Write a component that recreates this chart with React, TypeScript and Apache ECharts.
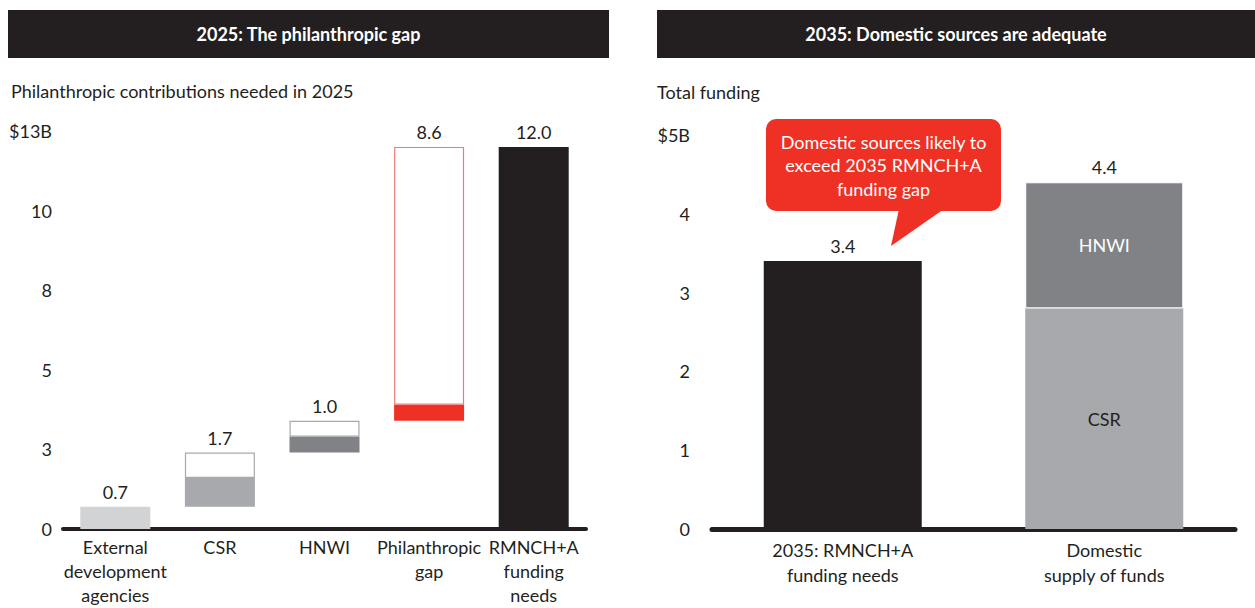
import React, { useEffect, useRef } from "react";
import * as echarts from "echarts";

// ---------- Data ----------
const leftCategories = [
  "External\ndevelopment\nagencies",
  "CSR",
  "HNWI",
  "Philanthropic\ngap",
  "RMNCH+A\nfunding\nneeds",
];
const leftTotals = [0.7, 1.7, 1.0, 8.6, 12.0];
const leftFilled = [0.7, 0.9, 0.5, 0.5, 12.0];
const leftIsTotal = [false, false, false, false, true];
const leftTickLabels = ["0", "3", "5", "8", "10", "$13B"];

const rightCategories = ["2035: RMNCH+A\nfunding needs", "Domestic\nsupply of funds"];
const rightNeeds = [3.4, "-"];
const rightCSR = ["-", 2.8];
const rightHNWI = ["-", 1.6];
const rightTotals = [3.4, 4.4];
const rightTickLabels = ["0", "1", "2", "3", "4", "$5B"];

// ---------- Styles ----------
const FONT = "Lato, 'Open Sans', sans-serif";
const FS = 18;
const TEXT = "#231f20";
const BLACK = "#231f20";
const RED = "#ee3124";
const leftFillColors = ["#d1d3d4", "#a7a9ac", "#808285", RED, BLACK];
const leftOutlineColors = ["#a7a9ac", "#a7a9ac", "#a7a9ac", "#f37a73", "#a7a9ac"];

export default function App() {
  const ref = useRef<HTMLDivElement>(null);

  useEffect(() => {
    if (!ref.current) return;
    const chart = echarts.init(ref.current, null, { renderer: "svg" });

    // waterfall bases
    const bases: number[] = [];
    let run = 0;
    leftTotals.forEach((t, i) => {
      if (leftIsTotal[i]) {
        bases.push(0);
      } else {
        bases.push(run);
        run += t;
      }
    });

    const filledData = leftFilled.map((v, i) => ({
      value: v,
      itemStyle: { color: leftFillColors[i] },
    }));
    const outlineData = leftTotals.map((t, i) => {
      const v = Math.max(0, +(t - leftFilled[i]).toFixed(2));
      return {
        value: v,
        itemStyle: {
          color: "#ffffff",
          borderColor: leftOutlineColors[i],
          borderWidth: v > 0 ? 1.2 : 0,
        },
      };
    });

    const valueLabel = (arr: number[]) => ({
      show: true,
      position: "top" as const,
      distance: 6,
      fontSize: FS,
      fontFamily: FONT,
      color: TEXT,
      formatter: (p: any) => arr[p.dataIndex].toFixed(1),
    });

    const option: any = {
      animation: false,
      backgroundColor: "#ffffff",
      textStyle: { fontFamily: FONT },
      grid: [
        { left: 63, right: 669, top: 131, bottom: 79, containLabel: false, outerBoundsMode: "none" },
        { left: 712, right: 20, top: 135, bottom: 79, containLabel: false, outerBoundsMode: "none" },
      ],
      xAxis: [
        {
          type: "category",
          gridIndex: 0,
          data: leftCategories,
          axisLine: { show: true, lineStyle: { color: BLACK, width: 4 } },
          axisTick: { show: false },
          axisLabel: {
            interval: 0,
            fontSize: FS,
            lineHeight: 24,
            color: TEXT,
            fontFamily: FONT,
            margin: 6,
          },
        },
        {
          type: "category",
          gridIndex: 1,
          data: rightCategories,
          axisLine: { show: true, lineStyle: { color: BLACK, width: 5 } },
          axisTick: { show: false },
          axisLabel: {
            interval: 0,
            fontSize: FS,
            lineHeight: 25,
            color: TEXT,
            fontFamily: FONT,
            margin: 8,
          },
        },
      ],
      yAxis: [
        {
          type: "value",
          gridIndex: 0,
          min: 0,
          max: 12.5,
          interval: 2.5,
          axisLine: { show: false },
          axisTick: { show: false },
          splitLine: { show: false },
          axisLabel: {
            fontSize: FS,
            color: TEXT,
            fontFamily: FONT,
            margin: 11,
            formatter: (v: number) => leftTickLabels[Math.round(v / 2.5)],
          },
        },
        {
          type: "value",
          gridIndex: 1,
          min: 0,
          max: 5,
          interval: 1,
          axisLine: { show: false },
          axisTick: { show: false },
          splitLine: { show: false },
          axisLabel: {
            fontSize: FS,
            color: TEXT,
            fontFamily: FONT,
            margin: 22,
            formatter: (v: number) => rightTickLabels[Math.round(v)],
          },
        },
      ],
      series: [
        {
          name: "base",
          type: "bar",
          xAxisIndex: 0,
          yAxisIndex: 0,
          stack: "left",
          barWidth: 70,
          itemStyle: { color: "transparent" },
          data: bases,
          silent: true,
        },
        {
          name: "filled",
          type: "bar",
          xAxisIndex: 0,
          yAxisIndex: 0,
          stack: "left",
          barWidth: 70,
          data: filledData,
        },
        {
          name: "outline",
          type: "bar",
          xAxisIndex: 0,
          yAxisIndex: 0,
          stack: "left",
          barWidth: 70,
          data: outlineData,
          label: valueLabel(leftTotals),
        },
        {
          name: "2035 needs",
          type: "bar",
          xAxisIndex: 1,
          yAxisIndex: 1,
          stack: "right",
          barWidth: 158,
          itemStyle: { color: BLACK },
          data: rightNeeds,
          label: valueLabel(rightTotals),
        },
        {
          name: "CSR",
          type: "bar",
          xAxisIndex: 1,
          yAxisIndex: 1,
          stack: "right",
          barWidth: 158,
          itemStyle: { color: "#a7a9ac" },
          data: rightCSR,
          label: {
            show: true,
            position: "inside",
            formatter: "CSR",
            fontSize: FS,
            color: TEXT,
            fontFamily: FONT,
          },
        },
        {
          name: "HNWI",
          type: "bar",
          xAxisIndex: 1,
          yAxisIndex: 1,
          stack: "right",
          barWidth: 158,
          itemStyle: { color: "#808285", borderColor: "#ffffff", borderWidth: 1 },
          data: rightHNWI,
          label: {
            show: true,
            position: "inside",
            formatter: "HNWI",
            fontSize: FS,
            color: "#ffffff",
            fontFamily: FONT,
          },
        },
        {
          name: "total",
          type: "bar",
          xAxisIndex: 1,
          yAxisIndex: 1,
          stack: "right",
          barWidth: 158,
          itemStyle: { color: "transparent" },
          data: ["-", 0],
          label: valueLabel(rightTotals),
          silent: true,
        },
      ],
      graphic: [
        { type: "rect", left: 8, top: 10, shape: { width: 601, height: 48 }, style: { fill: BLACK } },
        {
          type: "text",
          x: 308.5,
          y: 34,
          style: {
            text: "2025: The philanthropic gap",
            fill: "#ffffff",
            font: `bold 18px ${FONT}`,
            textAlign: "center",
            textVerticalAlign: "middle",
          },
        },
        { type: "rect", left: 657, top: 10, shape: { width: 598, height: 48 }, style: { fill: BLACK } },
        {
          type: "text",
          x: 956,
          y: 34,
          style: {
            text: "2035: Domestic sources are adequate",
            fill: "#ffffff",
            font: `bold 18px ${FONT}`,
            textAlign: "center",
            textVerticalAlign: "middle",
          },
        },
        {
          type: "text",
          x: 11,
          y: 91,
          style: {
            text: "Philanthropic contributions needed in 2025",
            fill: TEXT,
            font: `${FS}px ${FONT}`,
            textAlign: "left",
            textVerticalAlign: "middle",
          },
        },
        {
          type: "text",
          x: 657,
          y: 92,
          style: {
            text: "Total funding",
            fill: TEXT,
            font: `${FS}px ${FONT}`,
            textAlign: "left",
            textVerticalAlign: "middle",
          },
        },
        // callout
        {
          type: "rect",
          shape: { x: 766, y: 119, width: 235, height: 92, r: 10 },
          style: { fill: RED },
        },
        {
          type: "polygon",
          shape: { points: [[899, 209], [944, 209], [891, 246]] },
          style: { fill: RED },
        },
        {
          type: "text",
          x: 883.5,
          y: 165,
          style: {
            text: "Domestic sources likely to\nexceed 2035 RMNCH+A\nfunding gap",
            fill: "#ffffff",
            font: `${FS}px ${FONT}`,
            lineHeight: 23.5,
            textAlign: "center",
            textVerticalAlign: "middle",
          },
        },
      ],
    };

    chart.setOption(option);
    return () => chart.dispose();
  }, []);

  return (
    <div
      ref={ref}
      style={{ position: "absolute", left: 0, top: 0, width: 1255, height: 608, background: "#fff" }}
    />
  );
}
